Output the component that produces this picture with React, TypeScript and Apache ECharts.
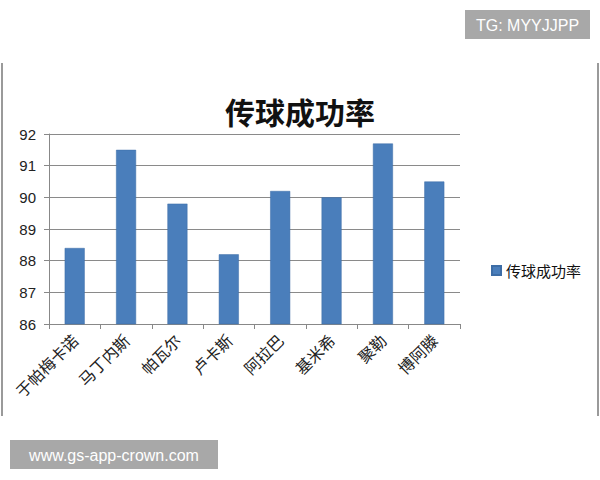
import * as echarts from 'echarts';
import React, { useEffect, useRef } from 'react';

// 선수 이름 (x축 카테고리)
const players = ['于帕梅卡诺', '马丁内斯', '帕瓦尔', '卢卡斯', '阿拉巴', '基米希', '聚勒', '博阿滕'];
// 传球成功率 값
const passRates = [88.4, 91.5, 89.8, 88.2, 90.2, 90.0, 91.7, 90.5];
// y축 눈금 범위
const yMin = 86;
const yMax = 92;
const yStep = 1;

const seriesName = '传球成功率';
const titleText = '传球成功率';
const topMark = 'TG: MYYJJPP';
const bottomMark = 'www.gs-app-crown.com';

const cjkFont = '"Noto Sans CJK SC", sans-serif';
const latinFont = '"Liberation Sans", Arial, sans-serif';

export default function App() {
  const chartRef = useRef<HTMLDivElement>(null);

  useEffect(() => {
    if (!chartRef.current) return;

    const chart = echarts.init(chartRef.current, null, { renderer: 'svg' });

    const option = {
      animation: false,
      backgroundColor: '#ffffff',
      title: {
        text: titleText,
        left: 'center',
        top: 91,
        textStyle: {
          fontFamily: cjkFont,
          fontSize: 30,
          fontWeight: 'bold',
          color: '#111111',
        },
      },
      grid: {
        left: 49,
        right: 140,
        top: 134,
        bottom: 156,
        containLabel: false,
      },
      legend: {
        data: [seriesName],
        left: 486,
        top: 258,
        icon: 'rect',
        itemWidth: 9,
        itemHeight: 9,
        textStyle: {
          fontFamily: cjkFont,
          fontSize: 15,
          color: '#111111',
        },
      },
      xAxis: {
        type: 'category',
        data: players,
        axisLine: { show: true, lineStyle: { color: '#888888', width: 1 } },
        axisTick: { show: true, length: 5, alignWithLabel: false, lineStyle: { color: '#888888' } },
        axisLabel: {
          rotate: 45,
          interval: 0,
          margin: 13,
          fontFamily: cjkFont,
          fontSize: 16,
          color: '#222222',
        },
      },
      yAxis: {
        type: 'value',
        min: yMin,
        max: yMax,
        interval: yStep,
        axisLine: { show: true, lineStyle: { color: '#888888', width: 1 } },
        axisTick: { show: true, length: 5, lineStyle: { color: '#888888' } },
        axisLabel: {
          margin: 13,
          fontFamily: latinFont,
          fontSize: 15,
          color: '#222222',
        },
        splitLine: { show: true, lineStyle: { color: '#8a8a8a', width: 1 } },
      },
      series: [
        {
          name: seriesName,
          type: 'bar',
          data: passRates,
          barWidth: 20,
          itemStyle: {
            color: '#4a7ebb',
            borderColor: '#3d6da6',
            borderWidth: 0.5,
          },
        },
      ],
      graphic: [
        // 차트 이미지 테두리 (좌/우)
        { type: 'line', shape: { x1: 2, y1: 63, x2: 2, y2: 416 }, style: { stroke: '#9a9a9a', lineWidth: 2 } },
        { type: 'line', shape: { x1: 598, y1: 63, x2: 598, y2: 416 }, style: { stroke: '#9a9a9a', lineWidth: 2 } },
        // 워터마크
        {
          type: 'group',
          left: 465,
          top: 10,
          z: 100,
          children: [
            { type: 'rect', shape: { x: 0, y: 0, width: 125, height: 29 }, style: { fill: '#a8a8a8' } },
            {
              type: 'text',
              x: 62.5,
              y: 15,
              style: {
                text: topMark,
                fill: '#ffffff',
                font: `16px ${latinFont}`,
                align: 'center',
                verticalAlign: 'middle',
              },
            },
          ],
        },
        {
          type: 'group',
          left: 10,
          top: 440,
          z: 100,
          children: [
            { type: 'rect', shape: { x: 0, y: 0, width: 208, height: 29 }, style: { fill: '#a8a8a8' } },
            {
              type: 'text',
              x: 104,
              y: 15,
              style: {
                text: bottomMark,
                fill: '#ffffff',
                font: `16px ${latinFont}`,
                align: 'center',
                verticalAlign: 'middle',
              },
            },
          ],
        },
      ],
    };

    chart.setOption(option);

    return () => {
      chart.dispose();
    };
  }, []);

  return (
    <div
      ref={chartRef}
      style={{ position: 'absolute', left: 0, top: 0, width: 600, height: 480 }}
    ></div>
  );
}
